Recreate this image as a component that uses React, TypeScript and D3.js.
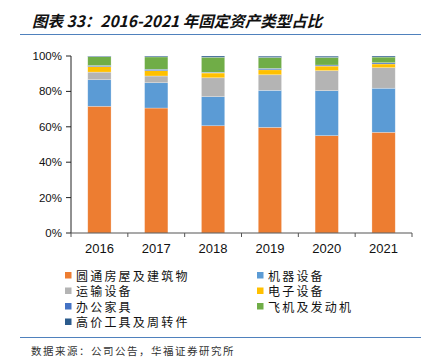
import React from "react";
import * as d3 from "d3";

const years = ["2016", "2017", "2018", "2019", "2020", "2021"];

// stacked bottom -> top, % of total
const seriesNames = [
  "圆通房屋及建筑物",
  "机器设备",
  "运输设备",
  "电子设备",
  "办公家具",
  "飞机及发动机",
  "高价工具及周转件",
];
const colors = ["#ED7D31", "#5B9BD5", "#B4B4B4", "#FFC000", "#4472C4", "#70AD47", "#2B5B8C"];

const buildings = [71.6, 70.6, 60.6, 59.7, 55.0, 56.9];
const machinery = [15.0, 14.3, 16.4, 20.9, 25.4, 24.9];
const transport = [4.3, 3.8, 10.7, 8.8, 11.3, 11.6];
const electronics = [3.1, 3.0, 2.7, 2.8, 2.6, 2.1];
const furniture = [0.6, 0.8, 0.4, 0.8, 0.6, 0.7];
const aircraft = [5.0, 7.0, 8.5, 6.2, 4.3, 3.2];
const tools = [0.4, 0.5, 0.7, 0.7, 0.7, 0.6];

const yTicks = [0, 20, 40, 60, 80, 100];

const seriesValues = [buildings, machinery, transport, electronics, furniture, aircraft, tools];

const App = () => {
  const width = 424;
  const height = 363;
  const left = 71;
  const right = 412;
  const top = 56;
  const bottom = 233;

  const rows = years.map((yr, i) => {
    const r: any = { year: yr };
    seriesNames.forEach((n, k) => (r[n] = seriesValues[k][i]));
    return r;
  });
  const stacked = d3.stack().keys(seriesNames)(rows);

  const pad = 0.59;
  const x = d3.scaleBand().domain(years).range([left, right]).paddingInner(pad).paddingOuter(pad / 2);
  const y = d3.scaleLinear().domain([0, 100]).range([bottom, top]);
  const step = x.step();
  const font = "'Liberation Sans', Arial, sans-serif";
  const cjk = "'Noto Sans CJK SC', sans-serif";

  const legendPos = [
    [65, 276], [257, 276],
    [65, 291.5], [257, 291.5],
    [65, 307], [257, 307],
    [65, 322.5],
  ];

  return (
    <svg width={width} height={height} style={{ position: "absolute", left: 0, top: 0, background: "#fff" }}>
      <text x={32} y={27} fontFamily={cjk} fontSize={15.5} fontWeight="bold" fontStyle="italic" fill="#111">
        图表 33：2016-2021 年固定资产类型占比
      </text>
      <line x1={20} x2={421} y1={34.5} y2={34.5} stroke="#4F81BD" strokeWidth={1.2} />

      {stacked.map((s, k) => (
        <g key={k} fill={colors[k]}>
          {s.map((d: any, i) => (
            <rect
              key={i}
              x={x(years[i])}
              width={x.bandwidth()}
              y={y(d[1])}
              height={Math.max(0, y(d[0]) - y(d[1]))}
              stroke="#fff"
              strokeOpacity={0.45}
              strokeWidth={0.6}
            />
          ))}
        </g>
      ))}

      {/* y axis */}
      <line x1={left} x2={left} y1={top} y2={bottom} stroke="#222" strokeWidth={1} />
      {yTicks.map((t) => (
        <g key={t}>
          <line x1={left - 5} x2={left} y1={y(t)} y2={y(t)} stroke="#222" />
          <text x={left - 9} y={y(t) + 4} textAnchor="end" fontFamily={font} fontSize={11.5} fill="#111">
            {t}%
          </text>
        </g>
      ))}

      {/* x axis */}
      <line x1={left} x2={right} y1={bottom} y2={bottom} stroke="#555" strokeWidth={1.2} />
      {years.map((yr, i) => (
        <line
          key={yr}
          x1={left + step * i}
          x2={left + step * i}
          y1={bottom}
          y2={bottom + 4}
          stroke="#555"
        />
      ))}
      <line x1={right} x2={right} y1={bottom} y2={bottom + 4} stroke="#555" />
      {years.map((yr) => (
        <text
          key={yr}
          x={(x(yr) as number) + x.bandwidth() / 2}
          y={bottom + 20}
          textAnchor="middle"
          fontFamily={font}
          fontSize={13}
          fill="#111"
        >
          {yr}
        </text>
      ))}

      {/* legend */}
      {seriesNames.map((n, k) => (
        <g key={n}>
          <rect x={legendPos[k][0]} y={legendPos[k][1] - 4} width={6.5} height={6.5} fill={colors[k]} />
          <text
            x={legendPos[k][0] + 11}
            y={legendPos[k][1] + 4.5}
            fontFamily={cjk}
            fontSize={12}
            letterSpacing={2.2}
            fill="#111"
          >
            {n}
          </text>
        </g>
      ))}

      <line x1={20} x2={421} y1={337.5} y2={337.5} stroke="#4F81BD" strokeWidth={1.2} />
      <text x={31} y={355} fontFamily={cjk} fontSize={10.5} letterSpacing={1.5} fill="#333">
        数据来源：公司公告，华福证券研究所
      </text>
    </svg>
  );
};

export default App;
